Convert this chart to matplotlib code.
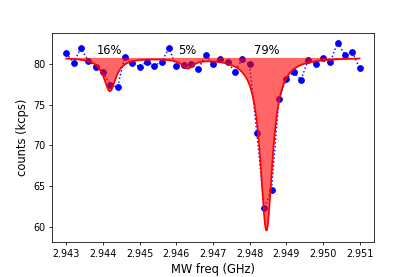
import numpy as np
import matplotlib

matplotlib.use("Agg")
import matplotlib.pyplot as plt

# measured ODMR spectrum: 41 points, 0.2 MHz steps
freq = np.round(np.arange(41) * 0.0002 + 2.943, 4)
counts = np.array([
    81.35, 80.20, 81.97, 80.44, 79.70, 79.01, 77.45, 77.20, 80.94, 80.12,
    79.70, 80.28, 79.83, 80.28, 81.97, 79.79, 79.91, 79.98, 79.38, 81.15,
    80.00, 80.69, 80.28, 79.09, 80.62, 80.04, 71.50, 62.27, 64.52, 75.73,
    78.15, 79.09, 78.07, 80.53, 80.00, 80.81, 80.25, 82.66, 81.15, 81.55,
    79.51,
])

# hyperfine triplet fit (Lorentzian dips)
baseline = 80.84
centers = [2.94419, 2.94631, 2.94846]
depths = [4.1, 1.15, 21.3]
hwhm = 0.0002
labels = ["16%", "5%", "79%"]


def lorentz(x, c, d, g):
    return d / (1 + ((x - c) / g) ** 2)


xf = np.linspace(2.943, 2.951, 2000)
dips = [lorentz(xf, c, d, hwhm) for c, d in zip(centers, depths)]
fit = baseline - np.sum(dips, axis=0)

fig = plt.figure(figsize=(415 / 69.1667, 277 / 69.1667), dpi=69.1667)
ax = fig.add_subplot(111)
fig.subplots_adjust(left=0.125, right=0.9, top=0.881, bottom=0.126)

ax.plot(freq, counts, "bo:", zorder=2)
# fill sits over the data so points inside the dips show through purple
ax.fill_between(xf, fit, baseline, color="r", alpha=0.6, lw=0, zorder=2.5)
ax.plot(xf, fit, "r-", lw=1.8, zorder=3)
for c, lab in zip(centers, labels):
    ax.text(c, baseline, lab, ha="center", va="bottom", fontsize=12)

ax.set_xlim(2.94261, 2.95138)
ax.set_ylim(58.1, 83.85)
ax.set_xticks(np.round(np.arange(9) * 0.001 + 2.943, 3))
ax.set_xticklabels([f"{v:.3f}" for v in np.arange(9) * 0.001 + 2.943])
ax.set_yticks([60, 65, 70, 75, 80])
ax.set_xlabel("MW freq (GHz)", fontsize=12)
ax.set_ylabel("counts (kcps)", fontsize=12)

fig.savefig("out.png", dpi=69.1667)
